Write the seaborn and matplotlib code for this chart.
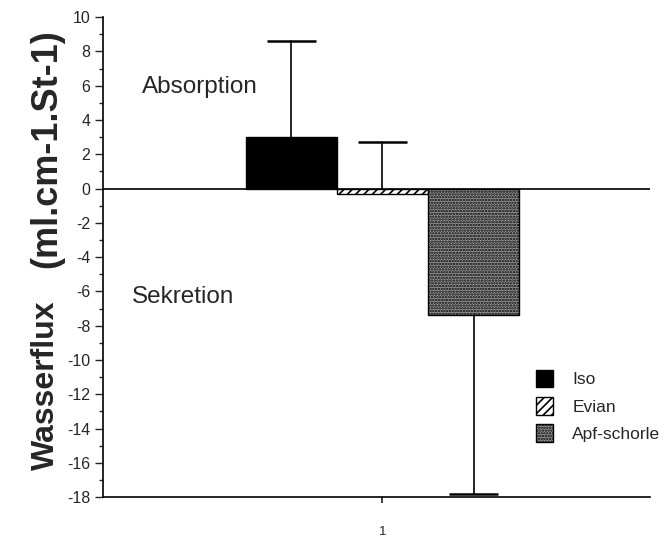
import matplotlib
matplotlib.use("Agg")
import matplotlib.pyplot as plt
from matplotlib.patches import Patch
import seaborn as sns
import pandas as pd

# Mean water flux per drink and one-sided error (SD) values
groups = ["Iso", "Evian", "Apf-schorle"]
means = [3.0, -0.3, -7.4]
errors = [5.6, 3.0, 10.4]
category = ["1", "1", "1"]

yticks = list(range(-18, 11, 2))

sns.set_theme(style="white")
plt.rcParams["font.family"] = ["Liberation Sans", "DejaVu Sans"]
plt.rcParams["hatch.linewidth"] = 1.2

colors = ["black", "white", "#9a9a9a"]
hatches = ["", "////", "......"]

df = pd.DataFrame({"x": category, "drink": groups, "flux": means})

fig = plt.figure(figsize=(6.72, 5.38), dpi=100)
ax = fig.add_axes([0.153, 0.076, 0.814, 0.892])

sns.barplot(data=df, x="x", y="flux", hue="drink", hue_order=groups,
            palette=colors, width=0.5, errorbar=None, edgecolor="black",
            linewidth=1.0, ax=ax, saturation=1)

for patch, h in zip(ax.patches[:3], hatches):
    patch.set_hatch(h)

# One-sided error bars: whisker runs away from zero, cap only at the tip
for patch, m, e in zip(ax.patches[:3], means, errors):
    cx = patch.get_x() + patch.get_width() / 2
    half = patch.get_width() * 0.27
    if m >= 0 or m > -1:
        base = max(m, 0)
        tip = m + e
    else:
        base = m
        tip = m - e
    ax.plot([cx, cx], [base, tip], color="black", lw=1.2, zorder=3)
    ax.plot([cx - half, cx + half], [tip, tip], color="black", lw=1.8,
            zorder=3, solid_capstyle="butt")

ax.axhline(0, color="black", linewidth=1.2, zorder=0.5)

ax.set_ylim(-18, 10)
ax.set_xlim(-0.511, 0.489)
ax.set_yticks(yticks)
ax.set_yticklabels([str(t) for t in yticks], fontsize=11.5)
ax.set_yticks(range(-17, 10, 2), minor=True)
ax.tick_params(axis="y", which="major", direction="out", length=6, width=1.0,
               left=True, pad=3)
ax.tick_params(axis="y", which="minor", direction="out", length=3, width=1.0,
               left=True)
ax.tick_params(axis="x", direction="out", length=4, bottom=True,
               labelsize=9.5, pad=17)
ax.set_xlabel("")
ax.set_ylabel("")

for side in ["top", "right"]:
    ax.spines[side].set_visible(False)
for side in ["left", "bottom"]:
    ax.spines[side].set_color("black")
    ax.spines[side].set_linewidth(1.2)

ax.text(-0.439, 5.9, "Absorption", fontsize=17.5, ha="left", va="center")
ax.text(-0.457, -6.3, "Sekretion", fontsize=17.5, ha="left", va="center")

fig.text(0.068, 0.284, "Wasserflux", rotation=90, fontsize=23,
         fontweight="bold", ha="center", va="center")
fig.text(0.07, 0.723, "(ml.cm-1.St-1)", rotation=90, fontsize=26,
         fontweight="bold", ha="center", va="center")

ax.legend_.remove()
handles = [Patch(facecolor=c, edgecolor="black", hatch=h)
           for c, h in zip(colors, hatches)]
ax.legend(handles, groups, loc="center left", bbox_to_anchor=(0.763, 0.19),
          frameon=False, fontsize=12.5, handlelength=1.0, handleheight=1.2,
          handletextpad=1.1, labelspacing=0.55)

fig.savefig("out.png", dpi=100)
